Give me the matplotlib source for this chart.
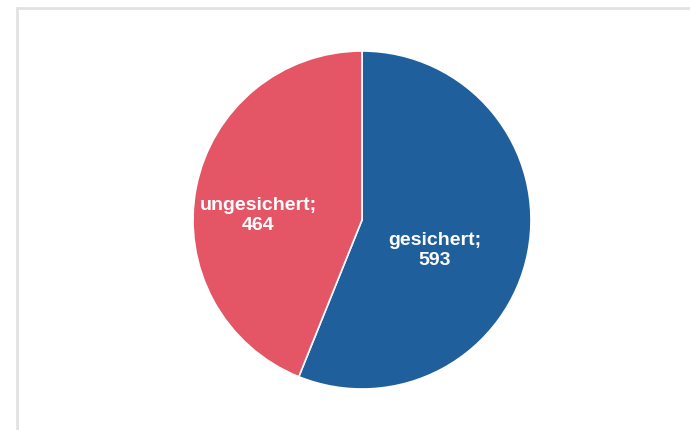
import matplotlib.pyplot as plt

labels = ['gesichert', 'ungesichert']
values = [593, 464]
colors = ['#1f5f9c', '#e45566']

fig = plt.figure(figsize=(6.9, 4.3), dpi=100)
fig.patch.set_facecolor('white')

# light frame at left and top
fig.add_artist(plt.Line2D([17 / 690, 17 / 690], [0, 1 - 8 / 430], color='#e2e2e2', lw=2))
fig.add_artist(plt.Line2D([17 / 690, 1], [1 - 8 / 430, 1 - 8 / 430], color='#e2e2e2', lw=2))

cx, cy, r = 362, 220, 169
ax = fig.add_axes([(cx - r) / 690, (430 - cy - r) / 430, 2 * r / 690, 2 * r / 430])
ax.pie(values, colors=colors, startangle=90, counterclock=False,
       wedgeprops=dict(edgecolor='white', linewidth=1.2))
ax.set_xlim(-1, 1)
ax.set_ylim(-1, 1)
ax.set_aspect('equal')

label_pos = [(0.43, -0.18), (-0.615, 0.025)]
for lab, v, (x, y) in zip(labels, values, label_pos):
    ax.text(x, y, f'{lab};\n{v}', ha='center', va='center', color='white',
            fontsize=14, fontweight='bold', family='Liberation Sans', linespacing=1.2)

fig.savefig('out.png', dpi=100)
